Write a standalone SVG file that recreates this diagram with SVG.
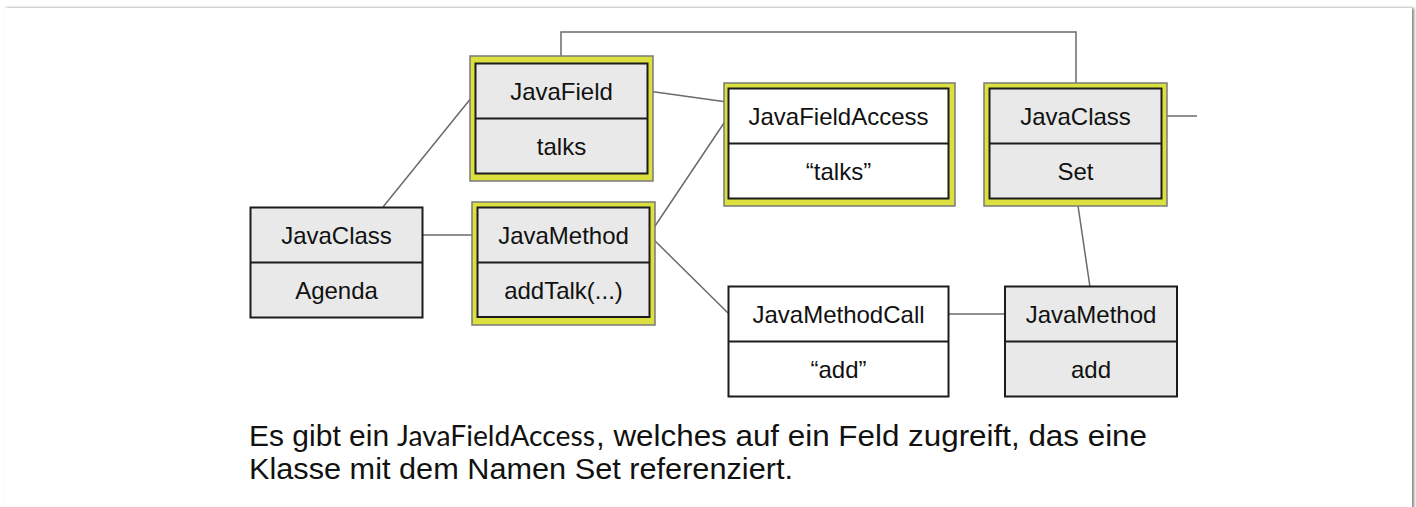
<svg xmlns="http://www.w3.org/2000/svg" width="1416" height="507" viewBox="0 0 1416 507">
<defs>
<filter id="shadow" x="-2%" y="-5%" width="104%" height="110%">
<feGaussianBlur in="SourceAlpha" stdDeviation="1.5"/>
<feOffset dx="1.5" dy="0" result="b"/>
<feComponentTransfer><feFuncA type="linear" slope="0.5"/></feComponentTransfer>
<feMerge><feMergeNode/><feMergeNode in="SourceGraphic"/></feMerge>
</filter>
<style>
.hl{fill:#dbe03e;stroke:#7a7a7a;stroke-width:1.5}
.box{stroke:#1c1c1c;stroke-width:2}
.g{fill:#e8e9e8}
.w{fill:#ffffff}
.div{stroke:#1c1c1c;stroke-width:2}
.t{font-family:"Liberation Sans",Arial,sans-serif;font-size:24px;fill:#111;text-anchor:middle}
.c{fill:none;stroke:#6a6a6a;stroke-width:1.5}
.cap{font-family:"Liberation Sans",Arial,sans-serif;font-size:30px;fill:#111}
.code{font-family:Lato,"Open Sans",sans-serif;font-size:29px;fill:#111}
</style>
</defs>
<rect x="0" y="0" width="1416" height="507" fill="#ffffff"/>
<rect x="4" y="8" width="1408" height="530" fill="#ffffff" filter="url(#shadow)"/>

<g id="connectors">
<polyline class="c" points="561,63 561,32 1076,32 1076,88"/>
<line class="c" x1="648" y1="91" x2="727" y2="102"/>
<line class="c" x1="383" y1="207" x2="476" y2="92"/>
<line class="c" x1="423" y1="235" x2="478" y2="235"/>
<line class="c" x1="649" y1="235" x2="728" y2="117"/>
<line class="c" x1="649" y1="235" x2="728" y2="313"/>
<line class="c" x1="949" y1="314" x2="1005" y2="314"/>
<line class="c" x1="1077" y1="199" x2="1090" y2="287"/>
<line class="c" x1="1162" y1="116" x2="1197" y2="116"/>
</g>

<g id="javafield">
<rect class="hl" x="470" y="56" width="183" height="125"/>
<rect class="box g" x="475.5" y="63.5" width="172" height="110"/>
<line class="div" x1="475.5" y1="118.5" x2="647.5" y2="118.5"/>
<text class="t" x="561.5" y="99.5">JavaField</text>
<text class="t" x="561.5" y="154.5">talks</text>
</g>

<g id="agenda">
<rect class="box g" x="250.5" y="207.5" width="172" height="110"/>
<line class="div" x1="250.5" y1="262.5" x2="422.5" y2="262.5"/>
<text class="t" x="336.5" y="243.5">JavaClass</text>
<text class="t" x="336.5" y="298.5">Agenda</text>
</g>

<g id="addtalk">
<rect class="hl" x="472" y="202" width="183" height="123"/>
<rect class="box g" x="477.5" y="207.5" width="172" height="109.5"/>
<line class="div" x1="477.5" y1="262.5" x2="649.5" y2="262.5"/>
<text class="t" x="563.5" y="243.5">JavaMethod</text>
<text class="t" x="563.5" y="298.5">addTalk(...)</text>
</g>

<g id="fieldaccess">
<rect class="hl" x="724" y="83" width="231" height="123"/>
<rect class="box w" x="728.5" y="88.5" width="220" height="110"/>
<line class="div" x1="728.5" y1="143.5" x2="948.5" y2="143.5"/>
<text class="t" x="838.5" y="124.5">JavaFieldAccess</text>
<text class="t" x="838.5" y="179.5">“talks”</text>
</g>

<g id="classset">
<rect class="hl" x="984" y="83" width="183" height="123"/>
<rect class="box g" x="989.5" y="88.5" width="172" height="110"/>
<line class="div" x1="989.5" y1="143.5" x2="1161.5" y2="143.5"/>
<text class="t" x="1075.5" y="124.5">JavaClass</text>
<text class="t" x="1075.5" y="179.5">Set</text>
</g>

<g id="methodcall">
<rect class="box w" x="728.5" y="286.5" width="220" height="110"/>
<line class="div" x1="728.5" y1="341.5" x2="948.5" y2="341.5"/>
<text class="t" x="838.5" y="322.5">JavaMethodCall</text>
<text class="t" x="838.5" y="377.5">“add”</text>
</g>

<g id="methodadd">
<rect class="box g" x="1005" y="286.5" width="172" height="110"/>
<line class="div" x1="1005" y1="341.5" x2="1177" y2="341.5"/>
<text class="t" x="1091" y="322.5">JavaMethod</text>
<text class="t" x="1091" y="377.5">add</text>
</g>

<g id="caption">
<text class="cap" y="446"><tspan x="249">Es gibt ein</tspan><tspan class="code" x="397" textLength="198" lengthAdjust="spacingAndGlyphs">JavaFieldAccess</tspan><tspan x="596" textLength="551" lengthAdjust="spacingAndGlyphs">, welches auf ein Feld zugreift, das eine</tspan></text>
<text class="cap" x="249" y="479" textLength="544" lengthAdjust="spacingAndGlyphs">Klasse mit dem Namen Set referenziert.</text>
</g>
</svg>
